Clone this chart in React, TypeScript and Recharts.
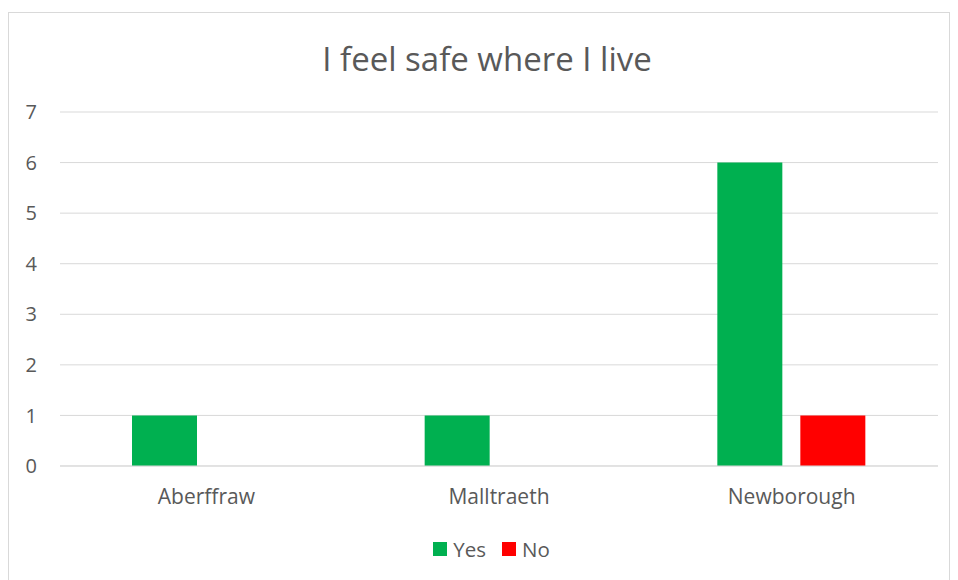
import React from "react";
import { BarChart, Bar, XAxis, YAxis, CartesianGrid, Legend } from "recharts";

const villages = ["Aberffraw", "Malltraeth", "Newborough"];
const yesCounts = [1, 1, 6];
const noCounts = [0, 0, 1];
const yTicks = [0, 1, 2, 3, 4, 5, 6, 7];

const data = villages.map((name, i) => ({ name, Yes: yesCounts[i], No: noCounts[i] }));

const FONT = "'Open Sans', sans-serif";
const TEXT = "#595959";

const LegendContent = () => (
  <div
    style={{
      display: "flex",
      justifyContent: "center",
      alignItems: "center",
      height: 60,
      fontFamily: FONT,
      fontSize: 20.5,
      color: TEXT,
      paddingLeft: 36,
    }}
  >
    {[
      { label: "Yes", color: "#00B050" },
      { label: "No", color: "#FF0000" },
    ].map((item, i) => (
      <span key={item.label} style={{ display: "flex", alignItems: "center", marginLeft: i ? 16 : 0 }}>
        <span style={{ width: 14, height: 14, background: item.color, display: "inline-block", marginRight: 6 }} />
        {item.label}
      </span>
    ))}
  </div>
);

export default function App() {
  return (
    <div
      style={{
        marginTop: 4,
        width: 942,
        height: 580,
        borderTop: "1px solid #d9d9d9",
        borderLeft: "1px solid #d9d9d9",
        borderRight: "1px solid #d9d9d9",
        position: "relative",
        boxSizing: "border-box",
      }}
    >
      <div
        style={{
          position: "absolute",
          top: 23,
          left: 0,
          width: 940,
          textAlign: "center",
          fontFamily: FONT,
          fontSize: 33,
          color: TEXT,
          paddingLeft: 16,
          boxSizing: "border-box",
        }}
      >
        I feel safe where I live
      </div>
      <BarChart
        width={940}
        height={566}
        data={data}
        margin={{ top: 99, right: 11, bottom: 0, left: 0 }}
        barCategoryGap={72}
        barGap={18}
      >
        <CartesianGrid vertical={false} stroke="#d9d9d9" />
        <XAxis
          dataKey="name"
          height={53}
          axisLine={{ stroke: "#d9d9d9" }}
          tickLine={false}
          tickSize={0}
          tickMargin={23}
          tick={{ fill: TEXT, fontSize: 21, fontFamily: FONT }}
        />
        <YAxis
          width={51}
          domain={[0, 7]}
          ticks={yTicks}
          axisLine={false}
          tickLine={false}
          tickSize={0}
          tickMargin={23}
          tick={{ fill: TEXT, fontSize: 20, fontFamily: FONT }}
        />
        <Legend verticalAlign="bottom" height={60} content={<LegendContent />} />
        <Bar dataKey="Yes" fill="#00B050" isAnimationActive={false} />
        <Bar dataKey="No" fill="#FF0000" isAnimationActive={false} />
      </BarChart>
    </div>
  );
}
